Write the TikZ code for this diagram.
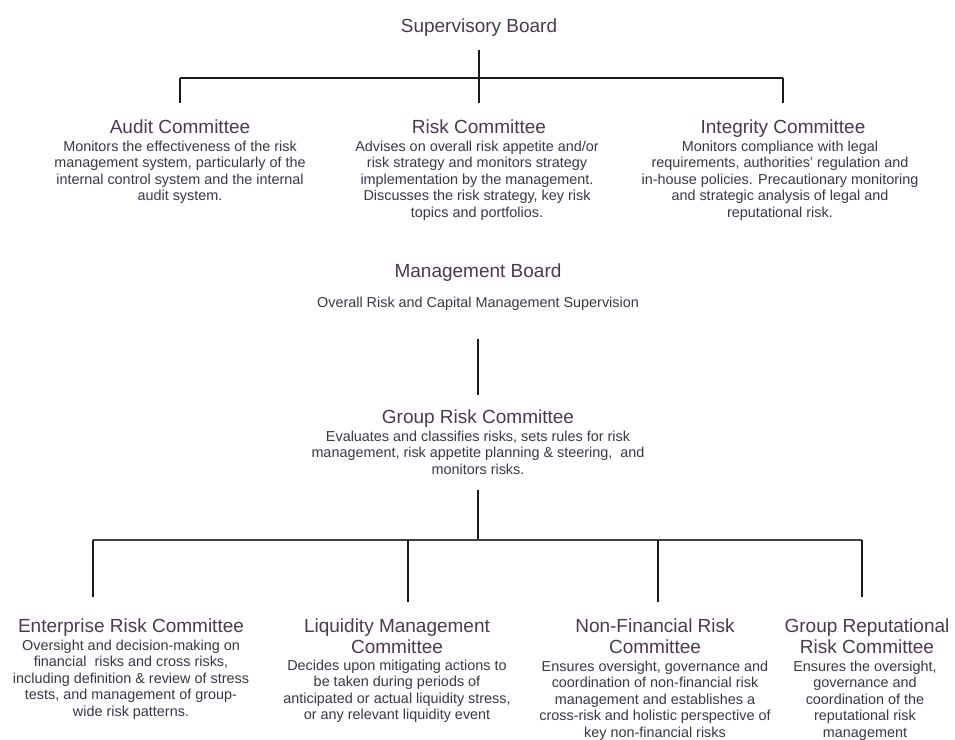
\documentclass[tikz,border=0pt]{standalone}
\usepackage{fontspec}
\setmainfont{Liberation Sans}
\definecolor{titlec}{HTML}{4A3A4E}
\definecolor{bodyc}{HTML}{383848}
\begin{document}
\begin{tikzpicture}[x=1pt,y=-1pt,
  ttl/.style={anchor=base,align=center,inner sep=0pt,text=titlec,font=\fontsize{19}{21}\selectfont},
  bdy/.style={anchor=base,align=center,inner sep=0pt,text=bodyc,font=\fontsize{14.4}{16.5}\selectfont},
  conn/.style={draw=black!90,line width=1.1pt},
  hline/.style={draw=black!75,line width=1.8pt}]
\useasboundingbox[fill=white] (0,0) rectangle (955,739);

% (multi-line nodes are placed by the baseline of their last line)
% top level
\node[ttl] (sb) at (479,32) {Supervisory Board};
\node[ttl] (auditT) at (180,133) {Audit Committee};
\node[bdy] (audit) at (180,200.5) {Monitors the effectiveness of the risk\\management system, particularly of the\\internal control system and the internal\\audit system.};
\node[ttl] (riskT) at (479,133) {Risk Committee};
\node[bdy] (risk) at (477,217) {Advises on overall risk appetite and/or\\risk strategy and monitors strategy\\implementation by the management.\\Discusses the risk strategy, key risk\\topics and portfolios.};
\node[ttl] (integT) at (783,133) {Integrity Committee};
\node[bdy] (integ) at (780,217) {Monitors compliance with legal\\requirements, authorities' regulation and\\in-house policies. Precautionary monitoring\\and strategic analysis of legal and\\reputational risk.};

% management
\node[ttl] (mb) at (478,277) {Management Board};
\node[bdy] (mbS) at (478,307) {Overall Risk and Capital Management Supervision};
\node[ttl] (grc) at (478,423) {Group Risk Committee};
\node[bdy] (grcS) at (478,474) {Evaluates and classifies risks, sets rules for risk\\management, risk appetite planning \& steering,~ and\\monitors risks.};

% bottom level
\node[ttl] (ercT) at (131,632) {Enterprise Risk Committee};
\node[bdy] (erc) at (131,716) {Oversight and decision-making on\\financial~ risks and cross risks,\\including definition \& review of stress\\tests, and management of group-\\wide risk patterns.};
\node[ttl] (lmcT) at (397,653) {Liquidity Management\\Committee};
\node[bdy] (lmc) at (397,719.5) {Decides upon mitigating actions to\\be taken during periods of\\anticipated or actual liquidity stress,\\or any relevant liquidity event};
\node[ttl] (nfrT) at (655,653) {Non-Financial Risk\\Committee};
\node[bdy] (nfr) at (655,737) {Ensures oversight, governance and\\coordination of non-financial risk\\management and establishes a\\cross-risk and holistic perspective of\\key non-financial risks};
\node[ttl] (grrT) at (867,653) {Group Reputational\\Risk Committee};
\node[bdy] (grr) at (865,737) {Ensures the oversight,\\governance and\\coordination of the\\reputational risk\\management};

% connectors top
\coordinate (j1) at (479,78);
\draw[conn] ([yshift=-14pt]sb.south) -- ([yshift=16pt]riskT.north);
\draw[conn] ([yshift=16pt]auditT.north) -- (auditT.north |- j1);
\draw[conn] ([yshift=16pt]integT.north) -- (integT.north |- j1);
\draw[conn,line width=1.5pt] (auditT.north |- j1) -- (integT.north |- j1);

% middle
\draw[conn] ([yshift=-29pt]mbS.south) -- ([yshift=14pt]grc.north);

% bottom
\coordinate (j2) at (478,540);
\coordinate (d1) at (93,597);
\coordinate (d2) at (408,602);
\coordinate (d3) at (658,602);
\coordinate (d4) at (862,597);
\draw[conn] ([yshift=-16pt]grcS.south) -- (j2);
\draw[hline] (d1 |- j2) -- (d4 |- j2);
\foreach \d in {d1,d2,d3,d4} \draw[conn] (\d |- j2) -- (\d);
\end{tikzpicture}
\end{document}
